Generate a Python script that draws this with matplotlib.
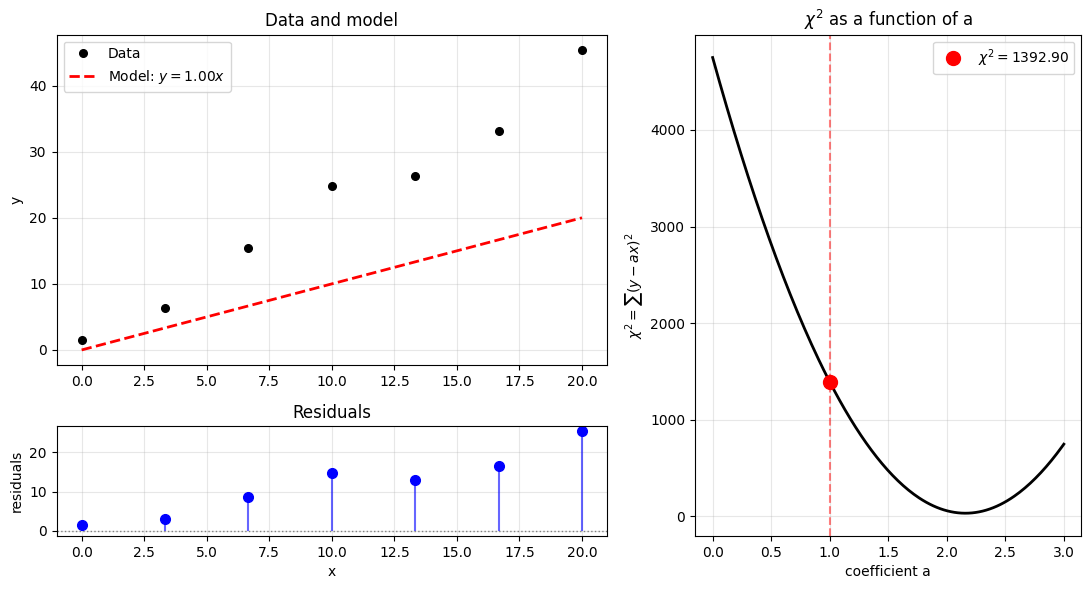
import numpy as np
import matplotlib.pyplot as plt
from matplotlib.gridspec import GridSpec

# Data
x = np.array([0.0, 20/6, 40/6, 10.0, 80/6, 100/6, 20.0])
y = np.array([1.52, 6.36, 15.40, 24.80, 26.31, 33.13, 45.43])
a_model = 1.00

# chi^2 scan over the coefficient a
a_grid = np.linspace(0, 3, 200)
chi2_grid = np.array([np.sum((y - a * x) ** 2) for a in a_grid])
chi2_model = np.sum((y - a_model * x) ** 2)
residuals = y - a_model * x

fig = plt.figure(figsize=(10.89, 5.89), dpi=100)
gs = GridSpec(2, 2, figure=fig, width_ratios=[550, 386], height_ratios=[3, 1],
              left=0.052, right=0.993, top=0.941, bottom=0.090,
              wspace=0.188, hspace=0.277)

# Data and model
ax1 = fig.add_subplot(gs[0, 0])
ax1.plot(x, y, 'ko', markersize=5.5, label='Data')
ax1.plot(x, a_model * x, 'r--', linewidth=2, label=f'Model: $y = {a_model:.2f}x$')
ax1.set_ylabel('y')
ax1.set_title('Data and model')
ax1.legend(loc='upper left')
ax1.grid(True, alpha=0.3)

# Residuals
ax2 = fig.add_subplot(gs[1, 0], sharex=ax1)
ax2.axhline(0, color='gray', linestyle=':', linewidth=1)
ax2.vlines(x, 0, residuals, colors='b', alpha=0.6, linewidth=1.5)
ax2.plot(x, residuals, 'bo', markersize=7)
ax2.set_xlabel('x')
ax2.set_ylabel('residuals')
ax2.set_title('Residuals')
ax2.grid(True, alpha=0.3)
ax1.tick_params(labelbottom=True)

# chi^2 as a function of a
ax3 = fig.add_subplot(gs[:, 1])
ax3.plot(a_grid, chi2_grid, 'k-', linewidth=2)
ax3.axvline(a_model, color='r', linestyle='--', alpha=0.5)
ax3.plot(a_model, chi2_model, 'ro', markersize=10, label=f'$\\chi^2 = {chi2_model:.2f}$')
ax3.set_xlabel('coefficient a')
ax3.set_ylabel('$\\chi^2 = \\sum(y - ax)^2$')
ax3.set_title('$\\chi^2$ as a function of a')
ax3.legend(loc='upper right')
ax3.grid(True, alpha=0.3)

plt.savefig('out.png', dpi=100)
